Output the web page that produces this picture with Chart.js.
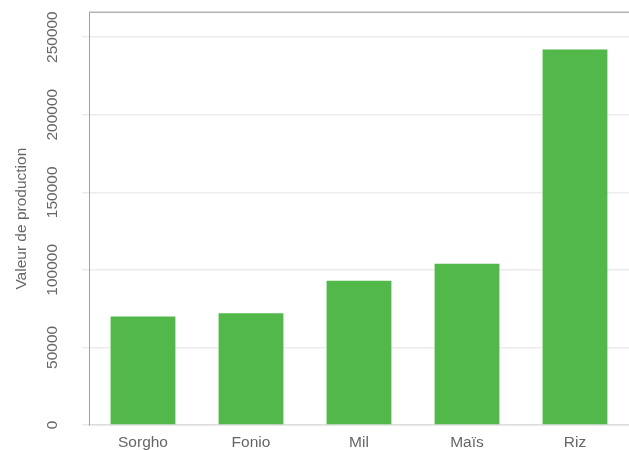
<!DOCTYPE html>
<html>
<head>
<meta charset="utf-8">
<script src="https://cdn.jsdelivr.net/npm/chart.js@4.4.0/dist/chart.umd.min.js"></script>
<style>
html,body{margin:0;padding:0;background:#fff;}
#wrap{width:629px;height:450px;position:relative;}
</style>
</head>
<body>
<div id="wrap"><canvas id="c" width="629" height="450"></canvas></div>
<script>
const categories = ["Sorgho", "Fonio", "Mil", "Maïs", "Riz"];
const productionValues = [70000, 72000, 93000, 104000, 242000];
const yTickValues = [0, 50000, 100000, 150000, 200000, 250000];
const yAxisTitle = "Valeur de production";

const FONT = "'Liberation Sans', Arial, sans-serif";

const topBorder = {
  id: 'topBorder',
  afterDraw(chart) {
    const {ctx, chartArea} = chart;
    ctx.save();
    ctx.strokeStyle = '#b3b3b3';
    ctx.lineWidth = 1.5;
    ctx.beginPath();
    ctx.moveTo(chartArea.left, chartArea.top);
    ctx.lineTo(chartArea.right, chartArea.top);
    ctx.stroke();
    ctx.restore();
  }
};

new Chart(document.getElementById('c'), {
  type: 'bar',
  data: {
    labels: categories,
    datasets: [{
      data: productionValues,
      backgroundColor: '#52b84a',
      borderWidth: 0,
      barPercentage: 0.6,
      categoryPercentage: 1.0
    }]
  },
  options: {
    responsive: false,
    animation: false,
    layout: { padding: { top: 12, right: 0, bottom: 0, left: 0 } },
    plugins: { legend: { display: false }, tooltip: { enabled: false } },
    scales: {
      x: {
        grid: { display: false, drawTicks: false },
        border: { display: true, color: '#dddddd', width: 1.5 },
        ticks: { color: '#666666', font: { family: FONT, size: 15.5 }, padding: 8 },
        afterFit(scale) { scale.height = 25; }
      },
      y: {
        min: 0,
        max: 266000,
        afterBuildTicks(scale) { scale.ticks = yTickValues.map(v => ({ value: v })); },
        grid: { color: '#ececec', lineWidth: 1.5, tickLength: 7 },
        border: { display: true, color: '#a0a0a0', width: 1 },
        ticks: {
          color: '#666666',
          font: { family: FONT, size: 15.5 },
          minRotation: 90,
          maxRotation: 90,
          crossAlign: 'center',
          padding: 3,
          callback: v => String(v)
        },
        title: {
          display: true,
          text: yAxisTitle,
          color: '#666666',
          font: { family: FONT, size: 15.5 },
          padding: { top: 12, bottom: 0 }
        },
        afterFit(scale) { scale.width = 89; }
      }
    }
  },
  plugins: [topBorder]
});
</script>
</body>
</html>
